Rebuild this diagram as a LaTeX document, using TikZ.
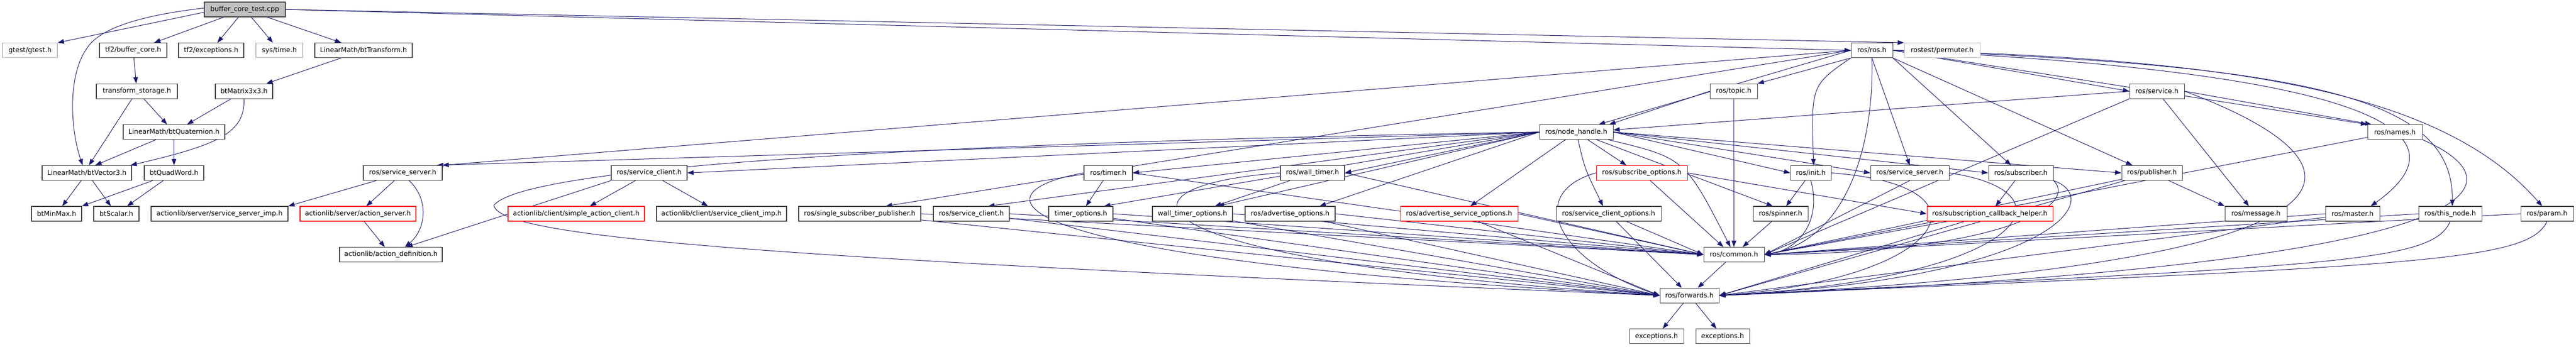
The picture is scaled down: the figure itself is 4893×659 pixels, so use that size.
\documentclass[tikz,border=0pt]{standalone}
\usepackage{fontspec}
\setmainfont{DejaVu Sans}
\usetikzlibrary{arrows.meta}
\pgfdeclarelayer{background}
\pgfsetlayers{background,main}
\definecolor{edgeblue}{RGB}{25,25,112}
\definecolor{boxgray}{RGB}{191,191,191}
\definecolor{boxred}{RGB}{255,0,0}
\definecolor{boxline}{RGB}{64,64,64}
\tikzset{
  fbox/.style={draw=boxline, line width=0.8pt, fill=white, inner sep=0pt,
    minimum height=21pt, font=\fontsize{9.6}{11}\selectfont, text=black},
  rootbox/.style={fbox, fill=boxgray},
  greybox/.style={fbox, draw=boxgray},
  redbox/.style={fbox, draw=boxred},
  dep/.style={draw=edgeblue, line width=0.75pt, -{Triangle[length=9pt,width=6.5pt]}},
}
\begin{document}
\begin{tikzpicture}[x=0.75pt,y=-0.75pt]
\useasboundingbox (0,0) rectangle (4893,659);
% row 0
\node[rootbox, minimum width=115.5pt] (root) at (465,18) {buffer\_core\_test.cpp};
% row 1
\node[greybox, minimum width=78pt] (gtest) at (57,95.6) {gtest/gtest.h};
\node[fbox, minimum width=96pt] (tf2bc) at (253,95.6) {tf2/buffer\_core.h};
\node[fbox, minimum width=93pt] (tf2ex) at (401,95.6) {tf2/exceptions.h};
\node[greybox, minimum width=66.75pt] (systime) at (530.5,95.6) {sys/time.h};
\node[fbox, minimum width=138.75pt] (bttrans) at (690.5,95.6) {LinearMath/btTransform.h};
\node[fbox, minimum width=59.25pt] (rosh) at (3555.5,95.6) {ros/ros.h};
\node[greybox, minimum width=108pt] (permuter) at (3689,95.6) {rostest/permuter.h};
% row 2
\node[fbox, minimum width=115.5pt] (tstorage) at (260,173.2) {transform\_storage.h};
\node[fbox, minimum width=81.75pt] (btmat) at (463.5,173.2) {btMatrix3x3.h};
\node[fbox, minimum width=67.5pt] (topic) at (3293,173.2) {ros/topic.h};
\node[fbox, minimum width=78pt] (service) at (4097,173.2) {ros/service.h};
% row 3
\node[fbox, minimum width=144.75pt] (btquat) at (330.5,250.8) {LinearMath/btQuaternion.h};
\node[fbox, minimum width=105pt] (nodehandle) at (2994,250.8) {ros/node\_handle.h};
\node[fbox, minimum width=78pt] (names) at (4549,250.8) {ros/names.h};
% row 4
\node[fbox, minimum width=127.5pt] (btvec) at (165,328.4) {LinearMath/btVector3.h};
\node[fbox, minimum width=84.75pt] (btquad) at (330.5,328.4) {btQuadWord.h};
\node[fbox, minimum width=112.5pt] (sservL) at (765,328.4) {ros/service\_server.h};
\node[fbox, minimum width=108pt] (sclientL) at (1233,328.4) {ros/service\_client.h};
\node[fbox, minimum width=69pt] (timer) at (2105,328.4) {ros/timer.h};
\node[fbox, minimum width=91.5pt] (walltimer) at (2493,328.4) {ros/wall\_timer.h};
\node[redbox, minimum width=129.75pt] (subopts) at (3118.5,328.4) {ros/subscribe\_options.h};
\node[fbox, minimum width=57.75pt] (init) at (3439.5,328.4) {ros/init.h};
\node[fbox, minimum width=111.75pt] (sservR) at (3627.5,328.4) {ros/service\_server.h};
\node[fbox, minimum width=92.25pt] (subscriber) at (3838.5,328.4) {ros/subscriber.h};
\node[fbox, minimum width=86.25pt] (publisher) at (4087.5,328.4) {ros/publisher.h};
% row 5
\node[fbox, minimum width=71.25pt] (btminmax) at (107.5,406) {btMinMax.h};
\node[fbox, minimum width=64.5pt] (btscalar) at (221,406) {btScalar.h};
\node[fbox, minimum width=195pt] (ssimp) at (417,406) {actionlib/server/service\_server\_imp.h};
\node[redbox, minimum width=165pt] (actserver) at (680,406) {actionlib/server/action\_server.h};
\node[redbox, minimum width=194.25pt] (simpleac) at (1094.5,406) {actionlib/client/simple\_action\_client.h};
\node[fbox, minimum width=185.25pt] (scimp) at (1370.5,406) {actionlib/client/service\_client\_imp.h};
\node[fbox, minimum width=174pt] (singlesp) at (1633,406) {ros/single\_subscriber\_publisher.h};
\node[fbox, minimum width=108pt] (sclient5) at (1845,406) {ros/service\_client.h};
\node[fbox, minimum width=91.5pt] (timeropts) at (2053,406) {timer\_options.h};
\node[fbox, minimum width=114pt] (walltimeropts) at (2265,406) {wall\_timer\_options.h};
\node[fbox, minimum width=128.25pt] (advopts) at (2450.5,406) {ros/advertise\_options.h};
\node[redbox, minimum width=167.25pt] (advsvcopts) at (2771.5,406) {ros/advertise\_service\_options.h};
\node[fbox, minimum width=149.25pt] (scopts) at (3055.5,406) {ros/service\_client\_options.h};
\node[fbox, minimum width=78pt] (spinner) at (3382,406) {ros/spinner.h};
\node[redbox, minimum width=179.25pt] (subcbh) at (3779.5,406) {ros/subscription\_callback\_helper.h};
\node[fbox, minimum width=88.5pt] (message) at (4285,406) {ros/message.h};
\node[fbox, minimum width=77.25pt] (master) at (4468.5,406) {ros/master.h};
\node[fbox, minimum width=90pt] (thisnode) at (4654,406) {ros/this\_node.h};
\node[fbox, minimum width=75pt] (param) at (4838,406) {ros/param.h};
% row 6
\node[fbox, minimum width=146.25pt] (actdef) at (742.5,483.6) {actionlib/action\_definition.h};
\node[fbox, minimum width=86.25pt] (common) at (3293.5,483.6) {ros/common.h};
% row 7
\node[fbox, minimum width=84pt] (forwards) at (3209,561.2) {ros/forwards.h};
% row 8
\node[fbox, minimum width=77.25pt] (excL) at (3146.5,638.8) {exceptions.h};
\node[fbox, minimum width=76.5pt] (excR) at (3272,638.8) {exceptions.h};

\begin{pgfonlayer}{background}
% root
\draw[dep] ([yshift=-4pt]root.west) -- (gtest.north east);
\draw[dep] (root) -- (tf2bc);
\draw[dep] (root) -- (tf2ex);
\draw[dep] (root) -- (systime);
\draw[dep] (root) -- (bttrans);
\draw[dep] ([yshift=2pt]root.west) .. controls (260,30) and (195,55) .. (170,85) .. controls (125,140) and (135,250) .. ([xshift=-6pt]btvec.north);
\draw[dep] (root.east) -- (rosh.west);
\draw[dep] (root.east) -- (permuter.north west);
% linear math
\draw[dep] (tf2bc) -- (tstorage);
\draw[dep] (tstorage) -- (btquat);
\draw[dep] (tstorage) -- ([xshift=3pt]btvec.north);
\draw[dep] (bttrans) -- (btmat);
\draw[dep] (btmat) -- (btquat);
\draw[dep] (btmat.south) .. controls (465,251) and (420,274) .. ([xshift=-2pt]btvec.north east);
\draw[dep] (btquat) -- ([xshift=12pt]btvec.north);
\draw[dep] (btquat) -- (btquad);
\draw[dep] (btvec) -- (btminmax);
\draw[dep] (btvec) -- (btscalar);
\draw[dep] (btquad) -- (btminmax.north east);
\draw[dep] (btquad) -- (btscalar);
% actionlib
\draw[dep] (sservL) -- (ssimp.north east);
\draw[dep] (sservL) -- (actserver);
\draw[dep] ([xshift=9pt]sservL.south) .. controls (815,378) and (810,435) .. ([xshift=20pt]actdef.north);
\draw[dep] (actserver) -- (actdef);
\draw[dep] (sclientL) -- (simpleac);
\draw[dep] (sclientL) -- (scimp);
\draw[dep] (sclientL.south west) -- ([xshift=22pt]actdef.north);
% ros.h
\draw[dep] (rosh.west) -- (sservL.north east);
\draw[dep] (rosh.west) -- ([xshift=37pt]singlesp.north);
\draw[dep] (rosh.west) -- ([xshift=32pt]nodehandle.north);
\draw[dep] (rosh.south west) -- (topic.north east);
\draw[dep] (rosh.east) -- (service.west);
\draw[dep] (rosh.south west) .. controls (3440,162) .. ([xshift=4pt]init.north);
\draw[dep] (rosh.south) .. controls (3560,251) and (3520,454) .. (common.east);
\draw[dep] (rosh.south) -- (sservR.north);
\draw[dep] (rosh.south east) -- ([xshift=-14pt]subscriber.north);
\draw[dep] (rosh.south east) -- ([xshift=-28pt]publisher.north);
\draw[dep] (rosh.east) -- (names.north west);
\draw[dep] (rosh.east) .. controls (4500,137) and (4700,251) .. ([xshift=26pt]master.north);
\draw[dep] (rosh.east) .. controls (4400,124) and (4660,188) .. ([xshift=3pt]thisnode.north);
\draw[dep] (rosh.east) .. controls (4300,112) and (4650,188) .. ([xshift=-7pt]param.north);
% topic, service
\draw[dep] (topic.west) -- ([xshift=47pt]nodehandle.north);
\draw[dep] (topic) -- (common);
\draw[dep] (service.west) -- ([yshift=3pt]nodehandle.east);
\draw[dep] (service.east) -- ([xshift=6pt]names.north west);
\draw[dep] (service) -- ([xshift=-10pt]message.north);
\draw[dep] (service.south west) -- (common.east);
\draw[dep] (service.east) .. controls (4560,327) and (4500,504) .. (forwards.east);
% node_handle
\draw[dep] (nodehandle.west) -- ([xshift=-8pt]sservL.north east);
\draw[dep] (nodehandle.west) -- (sclientL.east);
\draw[dep] (nodehandle.west) -- ([xshift=24pt]sclient5.north);
\draw[dep] (nodehandle.west) -- (timer.east);
\draw[dep] (nodehandle.west) -- ([xshift=33pt]timeropts.north);
\draw[dep] (nodehandle.west) -- (walltimer.east);
\draw[dep] (nodehandle.west) -- ([xshift=36pt]walltimeropts.north);
\draw[dep] (nodehandle.west) -- ([xshift=42pt]advopts.north);
\draw[dep] (nodehandle) -- ([xshift=16pt]advsvcopts.north);
\draw[dep] (nodehandle) .. controls (3010,320) .. ([xshift=-8pt]scopts.north);
\draw[dep] (nodehandle) -- ([xshift=-22pt]subopts.north);
\draw[dep] (nodehandle.east) -- (init.west);
\draw[dep] (nodehandle.east) -- (sservR.west);
\draw[dep] (nodehandle.east) -- (subscriber.west);
\draw[dep] (nodehandle.east) -- (publisher.west);
\draw[dep] (nodehandle) -- ([xshift=-11pt]spinner.north);
\draw[dep] (nodehandle) .. controls (3200,300) .. ([xshift=-5pt]common.north);
\draw[dep] (nodehandle.west) .. controls (1800,270) and (1000,314) .. (938,390) .. controls (950,454) and (1500,492) .. (forwards.west);
% timers
\draw[dep] (timer) -- (timeropts);
\draw[dep] (timer.east) -- (common.west);
\draw[dep] (timer.west) .. controls (1850,365) and (1850,492) .. (forwards.west);
\draw[dep] (walltimer) -- (walltimeropts);
\draw[dep] (walltimer.east) -- (common.west);
\draw[dep] (walltimer.west) .. controls (2100,352) and (2100,492) .. (forwards.west);
% subscribe options
\draw[dep] (subopts.east) -- (subcbh.west);
\draw[dep] (subopts) -- ([xshift=-15pt]common.north);
\draw[dep] (subopts.west) .. controls (2900,365) and (2950,492) .. (forwards.west);
% row 5 options to common and forwards
\draw[dep] (singlesp.east) -- (common.west);
\draw[dep] (singlesp) -- (forwards.west);
\draw[dep] (sclient5.east) -- (common.west);
\draw[dep] (sclient5) -- (forwards.west);
\draw[dep] (timeropts.east) -- (common.west);
\draw[dep] (timeropts) -- (forwards.west);
\draw[dep] (walltimeropts.east) -- (common.west);
\draw[dep] (walltimeropts) -- (forwards.west);
\draw[dep] (advopts.east) -- (common.west);
\draw[dep] (advopts) -- (forwards.west);
\draw[dep] (advsvcopts.east) -- (common.west);
\draw[dep] (advsvcopts) -- (forwards.west);
\draw[dep] (scopts) -- (common.west);
\draw[dep] (scopts) -- (forwards);
% init, spinner, service_server
\draw[dep] (init) -- (spinner);
\draw[dep] (init.south) .. controls (3460,416) and (3420,473) .. (common.east);
\draw[dep] (init.east) .. controls (3800,352) and (3700,529) .. (forwards.east);
\draw[dep] (spinner) -- (common);
\draw[dep] (sservR.south) -- (common.east);
\draw[dep] (sservR.east) .. controls (3950,365) and (3850,529) .. (forwards.east);
% subscriber, publisher
\draw[dep] (subscriber) -- (subcbh);
\draw[dep] (subscriber.south east) .. controls (3950,390) and (3800,479) .. (common.east);
\draw[dep] (subscriber.south east) .. controls (4000,378) and (3900,529) .. (forwards.east);
\draw[dep] (subcbh) -- (common.east);
\draw[dep] (subcbh) -- (forwards.east);
\draw[dep] (publisher) -- (message.north west);
\draw[dep] (publisher) -- (common.east);
\draw[dep] (publisher) -- (forwards.east);
% names, master, this_node, param
\draw[dep] (names) -- (common.east);
\draw[dep] (names.south east) .. controls (4800,352) and (4750,504) .. (forwards.east);
\draw[dep] (master.west) -- (common.east);
\draw[dep] (master) -- (forwards.east);
\draw[dep] (thisnode.west) -- (common.east);
\draw[dep] (thisnode.south) .. controls (4620,498) and (4450,504) .. (forwards.east);
\draw[dep] (param.west) -- (common.east);
\draw[dep] (param.south) .. controls (4800,498) and (4600,504) .. (forwards.east);
% common, forwards
\draw[dep] (common) -- (forwards);
\draw[dep] (forwards) -- (excL);
\draw[dep] (forwards) -- (excR);
\end{pgfonlayer}
\end{tikzpicture}
\end{document}
